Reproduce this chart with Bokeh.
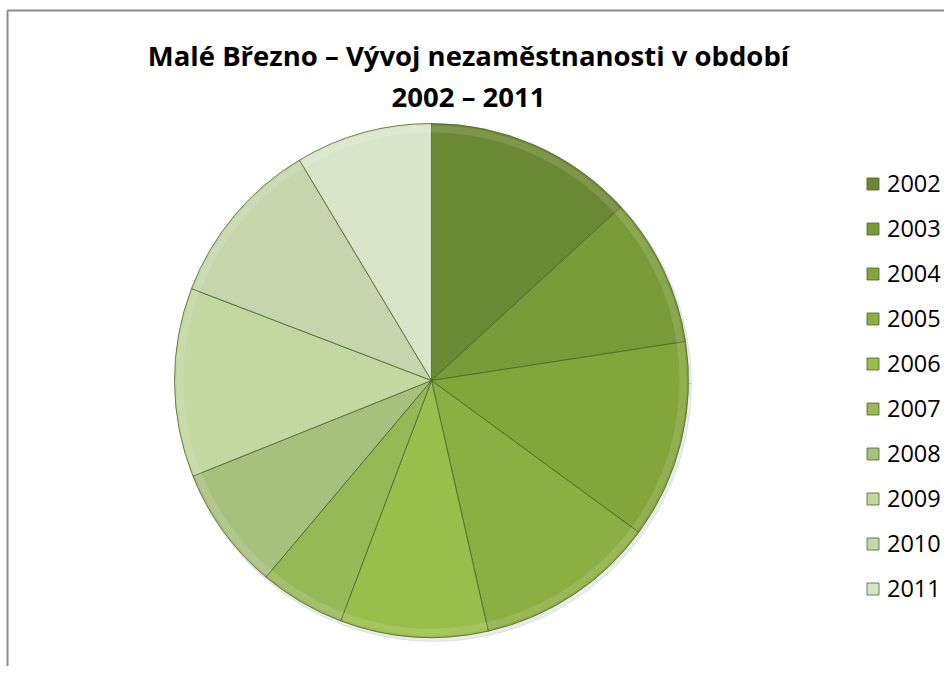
import numpy as np
from bokeh.plotting import figure
from bokeh.models import ColumnDataSource, Range1d, Legend, LegendItem
from bokeh.core.properties import value
from bokeh.embed import file_html
from bokeh.resources import INLINE

# ---- data ----
years = ["2002", "2003", "2004", "2005", "2006", "2007", "2008", "2009", "2010", "2011"]
shares = [13.2, 9.4, 12.5, 11.4, 9.3, 5.4, 7.8, 11.9, 10.6, 8.6]
colors = ["#6b8834", "#7a9a3a", "#83a53c", "#8dae42", "#9abd4c",
          "#98b857", "#a8c07e", "#c3d7a0", "#c6d5ac", "#d9e5c9"]
title_lines = ["Malé Březno – Vývoj nezaměstnanosti v období", "2002 – 2011"]

W, H = 944, 666
p = figure(width=W, height=H, output_backend="svg", toolbar_location=None,
           x_range=Range1d(0, W), y_range=Range1d(0, H), min_border=0,
           outline_line_color=None)
p.axis.visible = False
p.grid.visible = False
p.background_fill_color = "white"

# pie geometry (clockwise from 12 o'clock)
vals = np.array(shares, dtype=float)
frac = vals / vals.sum()
cum = np.concatenate([[0], np.cumsum(frac)])
start = np.pi / 2 - cum[1:] * 2 * np.pi
end = np.pi / 2 - cum[:-1] * 2 * np.pi
cx, cy, R = 431, 286, 257

src = ColumnDataSource(dict(year=years, start=start, end=end, color=colors,
                            x=[cx] * len(years), y=[cy] * len(years)))

# soft shadow
p.wedge(x=cx + 2, y=cy - 3, radius=R + 1, radius_units="screen",
        start_angle=0, end_angle=2 * np.pi, color="#000000", alpha=0.08)

wr = p.wedge(x="x", y="y", radius=R, radius_units="screen",
             start_angle="start", end_angle="end", fill_color="color",
             line_color="#4f6328", line_width=1, line_alpha=0.8, source=src)
# bevel highlight near rim
p.annular_wedge(x="x", y="y", inner_radius=R - 9, outer_radius=R - 2,
                inner_radius_units="screen", outer_radius_units="screen",
                start_angle="start", end_angle="end", fill_color="white",
                fill_alpha=0.12, line_color=None, source=src)

# border lines (top and left of chart area)
p.line(x=[7, 7], y=[0, H - 10], line_color="#8c8c8c", line_width=2)
p.line(x=[7, W], y=[H - 10, H - 10], line_color="#8c8c8c", line_width=2)

# title
p.text(x=[468, 468], y=[611, 570], text=title_lines, text_align="center",
       text_baseline="middle", text_font=value("Open Sans"),
       text_font_style="bold", text_font_size="27.5px", text_color="#000000")

items = [LegendItem(label=y, renderers=[wr], index=i) for i, y in enumerate(years)]
legend = Legend(items=items, location=(865, 62), orientation="vertical",
                glyph_width=15, glyph_height=15, label_height=25, spacing=13,
                padding=0, margin=0, border_line_color=None,
                background_fill_alpha=0, label_text_font="Open Sans",
                label_text_font_size="23.5px", label_text_color="#000000",
                label_standoff=7)
p.add_layout(legend, "center")

open("out.html", "w").write(file_html(p, INLINE))
